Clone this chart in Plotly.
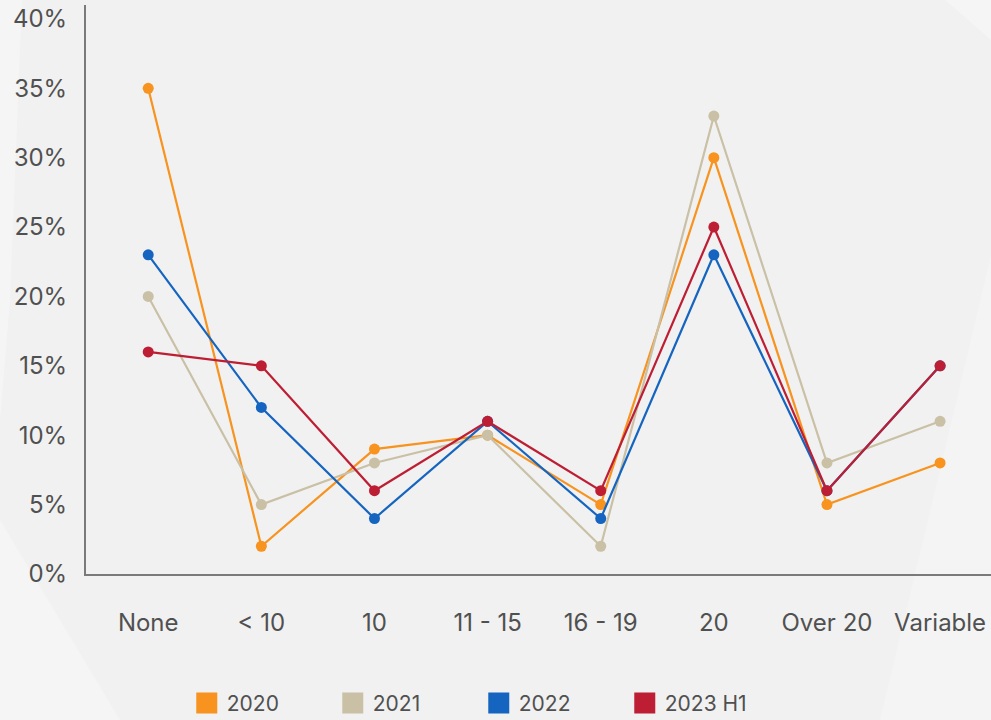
import plotly.graph_objects as go

categories = ["None", "< 10", "10", "11 - 15", "16 - 19", "20", "Over 20", "Variable"]
series_names = ["2020", "2021", "2022", "2023 H1"]
v2020 = [35, 2, 9, 10, 5, 30, 5, 8]
v2021 = [20, 5, 8, 10, 2, 33, 8, 11]
v2022 = [23, 12, 4, 11, 4, 23, 6, 15]
v2023 = [16, 15, 6, 11, 6, 25, 6, 15]
colors = ["#F7931E", "#C9C0A5", "#1565C0", "#BE1E33"]
y_ticks = [0, 5, 10, 15, 20, 25, 30, 35, 40]
y_tick_labels = ["0%", "5%", "10%", "15%", "20%", "25%", "30%", "35%", "40%"]

fig = go.Figure()
series_values = [v2020, v2021, v2022, v2023]
for name, vals, col in zip(series_names, series_values, colors):
    fig.add_trace(go.Scatter(
        x=categories, y=vals, mode="lines+markers", name=name,
        line=dict(color=col, width=2.2),
        marker=dict(color=col, size=11),
        showlegend=False,
    ))
for name, col in zip(series_names, colors):
    fig.add_trace(go.Scatter(
        x=[None], y=[None], mode="markers", name=name,
        marker=dict(color=col, symbol="square", size=16, line=dict(color=col, width=5)),
        showlegend=True,
    ))

def px_x(p):
    return (p - 86) / 905

def px_y(p):
    return (574 - p) / 569

bg_shapes = [
    dict(type="path", xref="paper", yref="paper", layer="below",
         path=f"M {px_x(0)} {px_y(0)} L {px_x(22)} {px_y(0)} L {px_x(10)} {px_y(300)} L {px_x(0)} {px_y(420)} Z",
         fillcolor="#f5f5f5", line=dict(width=0)),
    dict(type="path", xref="paper", yref="paper", layer="below",
         path=f"M {px_x(0)} {px_y(520)} L {px_x(120)} {px_y(720)} L {px_x(0)} {px_y(720)} Z",
         fillcolor="#f5f5f5", line=dict(width=0)),
    dict(type="path", xref="paper", yref="paper", layer="below",
         path=f"M {px_x(945)} {px_y(0)} L {px_x(991)} {px_y(0)} L {px_x(991)} {px_y(40)} Z",
         fillcolor="#f5f5f5", line=dict(width=0)),
    dict(type="path", xref="paper", yref="paper", layer="below",
         path=f"M {px_x(991)} {px_y(255)} L {px_x(940)} {px_y(470)} L {px_x(880)} {px_y(720)} L {px_x(991)} {px_y(720)} Z",
         fillcolor="#f4f4f4", line=dict(width=0)),
]

fig.update_layout(
    width=991, height=720,
    margin=dict(l=86, r=0, t=5, b=146, autoexpand=False),
    paper_bgcolor="#f1f1f1", plot_bgcolor="rgba(0,0,0,0)",
    font=dict(family="Inter, Roboto, sans-serif", color="#505050", size=24),
    shapes=bg_shapes,
    showlegend=True,
    legend=dict(
        orientation="h", x=0.434, xanchor="center", y=-0.2272, yanchor="middle",
        font=dict(size=21, color="#505050"),
        entrywidth=101, bgcolor="rgba(0,0,0,0)",
        itemclick=False,
    ),
    xaxis=dict(
        type="category", range=[-0.55, 7.45],
        showgrid=False, zeroline=False,
        showline=True, linecolor="#7a7a7a", linewidth=2,
        ticks="", ticklabelstandoff=26,
        tickfont=dict(size=24, color="#505050"),
        fixedrange=True,
    ),
    yaxis=dict(
        range=[0, 41], tickvals=y_ticks, ticktext=y_tick_labels,
        showgrid=False, zeroline=False,
        showline=True, linecolor="#7a7a7a", linewidth=2,
        ticks="", ticklabelstandoff=12,
        tickfont=dict(size=24, color="#505050"),
        fixedrange=True,
    ),
)

fig.write_html(
    "out.html",
    config={"displayModeBar": False},
    post_script="document.body.style.margin='0';document.body.style.background='#f1f1f1';document.body.style.overflow='hidden';",
)
